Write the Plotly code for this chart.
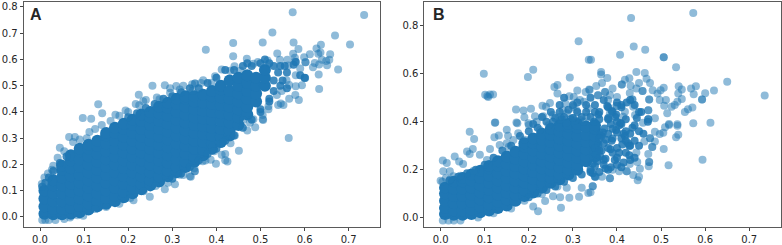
import plotly.graph_objects as go

W, H = 782, 245
BLUE = "#1f77b4"

# Panel A: individually readable points
a_x = [.097,.116,.132,.141,.171,.194,.217,.224,.234,.255,.283,.309,.317,.352,.346,.271,.295,
       .573,.735,.527,.669,.438,.505,.575,.703,.637,.376,.586,.627,.438,.538,.636,.658,.574,.612,.631,.599,.469,.578,.578,.602,.602,
       .639,.656,.649,.623,.633,.651,.619,.676,.632,.441,.412,.494,.516,.484,.544,.561,.563,.590,.601,.601,.580,.559,.594,.580,.565,.633,
       .389,.370,.351,.397,.454,.431,.537,.546,.565,.579,.587,.552,.540,.518,.518,.505,.505,.484,.461,.548,
       .451,.564,.425,.412,.420,.420,.387,.399,.369,.351,.342,.432,.410,.390,.470,.488,.506,.442,.476,
       .045,.027,.066,.079,.112,.106,.249,.212,.340,.306,.283,.351,.317,.098,.068,
       .004,.010,.018,.030,.040,.055,.075,.090,.125,.140,.160,.180,.200,.225,.240,.265,.295,.325,.345,.365,
       .005,.012,.020,.035,.055,.085,.125,.150,.180,.205,.235,.262,.290,.325,.350,.375,.395,.415]
a_y = [.377,.374,.429,.395,.389,.405,.430,.465,.441,.500,.502,.499,.485,.508,.480,.448,.473,
       .780,.769,.703,.691,.663,.665,.665,.657,.656,.637,.640,.642,.612,.623,.626,.620,.622,.620,.622,.608,.603,.606,.592,.589,.589,
       .599,.599,.594,.586,.581,.578,.570,.562,.543,.574,.562,.590,.596,.584,.599,.599,.577,.565,.529,.529,.540,.521,.502,.498,.503,.487,
       .511,.521,.508,.536,.557,.557,.464,.432,.450,.464,.445,.426,.426,.422,.410,.388,.372,.372,.369,.480,
       .252,.301,.211,.237,.240,.216,.218,.202,.212,.174,.153,.281,.278,.266,.329,.342,.369,.310,.359,
       .263,.180,.304,.304,.323,.300,.077,.063,.155,.124,.105,.174,.161,.004,-.002,
       .125,.150,.165,.195,.225,.250,.285,.295,.335,.350,.365,.385,.400,.425,.445,.455,.490,.500,.505,.510,
       -.012,-.012,-.012,-.012,-.008,.006,.030,.038,.050,.072,.098,.118,.130,.160,.185,.215,.250,.285]

# Panel A: overlapping points at the broken edge of the cloud
a_mid_x = [.50,.52,.53,.53,.54,.52,.50,.48,.46,.53,.545,.555,.56,.55,.545,.56,.52,.50,.48,.46,.44,.42,.40,.42,.40,.38,.36,.34,.32,.44,.47,.51,.575,.58,.60,.59,.30,.28,.26,.24,.22,.20,.38,.36,.34,.32,.30,.005,.012,.02,.03,.045,.06]
a_mid_y = [.41,.45,.48,.52,.55,.585,.585,.575,.575,.575,.575,.575,.55,.52,.50,.49,.44,.40,.37,.34,.31,.29,.26,.56,.53,.51,.49,.49,.475,.56,.585,.60,.58,.59,.53,.54,.46,.45,.43,.415,.395,.38,.24,.215,.19,.165,.145,.115,.13,.15,.175,.205,.23]

# Panel A: solid body of the cloud, column by column
a_core_columns = [.01,.03,.05,.07,.09,.11,.13,.15,.17,.19,.21,.23,.25,.27,.29,.31,.33,.35,.37,.39,.41,.43,.45,.47,.49,.51]
a_core_values = [
 [.012,.04,.07,.10],
 [.01,.03,.06,.09,.12,.14],
 [.01,.03,.06,.09,.12,.15,.18,.195],
 [.012,.035,.065,.095,.125,.155,.185,.215,.235],
 [.018,.04,.07,.10,.13,.16,.19,.22,.25,.26],
 [.028,.05,.08,.11,.14,.17,.20,.23,.26,.275],
 [.04,.06,.09,.12,.15,.18,.21,.24,.27,.29],
 [.05,.07,.10,.13,.16,.19,.22,.25,.28,.31,.32],
 [.06,.08,.11,.14,.17,.20,.23,.26,.29,.32,.34],
 [.075,.095,.125,.155,.185,.215,.245,.275,.305,.335,.355],
 [.09,.11,.14,.17,.20,.23,.26,.29,.32,.35,.37],
 [.105,.125,.155,.185,.215,.245,.275,.305,.335,.365,.39],
 [.12,.14,.17,.20,.23,.26,.29,.32,.35,.38,.40],
 [.135,.155,.185,.215,.245,.275,.305,.335,.365,.395,.42],
 [.155,.175,.205,.235,.265,.295,.325,.355,.385,.415,.435],
 [.17,.19,.22,.25,.28,.31,.34,.37,.40,.43,.45],
 [.19,.21,.24,.27,.30,.33,.36,.39,.42,.45,.46],
 [.21,.23,.26,.29,.32,.35,.38,.41,.44,.46],
 [.235,.255,.285,.315,.345,.375,.405,.435,.465],
 [.26,.28,.31,.34,.37,.40,.43,.46,.48],
 [.285,.305,.335,.365,.395,.425,.455,.485,.50],
 [.31,.33,.36,.39,.42,.45,.48,.52],
 [.35,.38,.41,.44,.47,.50,.53],
 [.39,.42,.45,.48,.51,.54],
 [.44,.47,.50,.53],
 [.50,.53,.56],
]

# Panel B: individually readable points
b_x = [.098,.210,.198,.313,.336,.293,.258,.265,.265,.310,.101,.108,.112,.119,.106,.124,.171,.188,.205,.190,.172,.199,.214,.231,.239,.248,.233,.254,.277,.283,.292,.302,.316,.329,.337,.325,.286,.308,.301,.335,.218,.271,.316,.331,
       .432,.573,.438,.464,.407,.341,.506,.506,.534,.444,.463,.364,.364,.378,.467,.650,.735,.418,.428,.366,.353,.390,.411,.411,.431,.450,.475,.444,.458,.458,.481,.499,.506,.540,.568,.579,.547,.539,.574,.600,.620,.593,.593,.547,.537,.511,.507,.524,.531,.571,.561,.554,.514,.492,.473,.473,.435,.435,.429,.497,.400,.384,.373,.373,.357,.357,.338,.380,.399,.399,.437,.471,.471,.441,.418,.471,.471,.471,.486,.518,.537,.573,.612,.459,.414,.384,
       .518,.537,.509,.497,.505,.539,.534,.486,.486,.475,.475,.462,.480,.480,.506,.471,.444,.473,.473,.472,.517,.594,.446,.429,.452,.422,.422,.437,.450,.447,.384,.384,.405,.366,.352,.345,.345,.340,.390,
       .066,.076,.122,.132,.032,.005,.014,.042,.051,.060,.073,.066,.089,.112,.006,.000,.021,.029,.123,.150,.153,.174,.200,.176,.134,.150,.165,
       .273,.221,.210,.237,.255,.271,.292,.314,.335,.320,.286,
       .004,.012,.022,.045,.075,.105,.155,.190,.225,.245,.270,.285,.305,.325,.300,
       .005,.018,.030,.045,.085,.120,.160,.190,.230,.265]
b_y = [.600,.617,.586,.735,.658,.584,.545,.553,.517,.530,.512,.503,.513,.513,.507,.397,.451,.447,.454,.418,.397,.393,.423,.466,.462,.478,.423,.428,.448,.476,.506,.503,.490,.524,.534,.483,.435,.448,.462,.455,.400,.407,.407,.421,
       .832,.853,.713,.700,.679,.658,.669,.669,.627,.607,.603,.607,.597,.582,.579,.567,.509,.575,.581,.561,.549,.538,.555,.555,.550,.561,.561,.538,.528,.528,.531,.531,.542,.548,.538,.548,.534,.517,.514,.519,.530,.493,.493,.495,.483,.490,.466,.462,.470,.459,.452,.440,.435,.517,.493,.493,.493,.493,.520,.490,.503,.510,.524,.524,.510,.510,.532,.490,.465,.465,.462,.448,.448,.428,.441,.410,.410,.410,.414,.390,.389,.393,.396,.396,.421,.435,
       .386,.383,.377,.349,.354,.345,.335,.358,.317,.331,.331,.317,.294,.294,.286,.265,.272,.232,.232,.214,.218,.241,.232,.224,.204,.193,.193,.178,.170,.156,.164,.164,.193,.170,.170,.131,.131,.106,.200,
       .358,.328,.335,.342,.255,.238,.228,.234,.224,.276,.286,.265,.262,.286,.193,.154,.193,.172,.396,.366,.341,.393,.386,.352,.303,.310,.324,
       .041,.027,.046,.069,.089,.085,.083,.087,.103,.124,.124,
       .150,.165,.160,.175,.195,.240,.295,.325,.365,.385,.420,.395,.405,.400,.415,
       -.012,-.012,-.012,-.012,.000,.018,.038,.070,.098,.130]

# Panel B: overlapping points in the loose outer part of the cloud
b_mid_x = [.345,.352,.358,.365,.372,.380,.388,.396,.405,.415,.425,.345,.355,.365,.375,.385,.395,.405,.415,.428,.348,.358,.368,.378,.388,.398,.408,.418,.435,.445,.350,.362,.374,.386,.398,.410,.422,.455,.350,.362,.374,.386,.400,.412,.428,.440,
           .37,.38,.39,.40,.41,.42,.43,.44,.45,.36,.37,.38,.39,.40,.41,.42,.43,.36,.37,.39,.41,.43,.45,.46,.36,.38,.40,.42,.44,.34,.35,.36,.38,.40,.42,
           .20,.22,.24,.26,.28,.30,.32,.21,.23,.25,.27,.29,.31,.33,.35,.18,.16,.14,.12,.10,.08,.06,.04,.02,.24,.26,.28,.30,.32,.34,.22,.20,.34,.30,.33,.27,.28,.31,
           .35,.37,.39,.41,.43,.45,.34,.36,.38,.40,.44,.47,.255,.275,.295]
b_mid_y = [.225,.262,.305,.340,.372,.415,.445,.420,.385,.350,.310,.185,.235,.280,.325,.285,.240,.270,.230,.300,.400,.430,.355,.465,.320,.365,.395,.340,.375,.415,.215,.255,.205,.390,.430,.470,.480,.440,.290,.345,.245,.210,.355,.305,.260,.385,
           .24,.29,.33,.25,.33,.27,.35,.32,.36,.28,.31,.35,.37,.29,.39,.32,.30,.41,.22,.27,.21,.24,.30,.35,.19,.20,.22,.36,.25,.19,.17,.33,.41,.40,.41,
           .36,.375,.40,.415,.42,.415,.42,.39,.42,.44,.44,.45,.44,.44,.44,.34,.30,.28,.25,.22,.20,.185,.17,.155,.115,.13,.15,.165,.18,.20,.10,.085,.42,.47,.47,.47,.50,.48,
           .47,.49,.44,.46,.49,.44,.50,.44,.46,.48,.47,.40,.40,.41,.41]

# Panel B: solid body of the cloud, column by column
b_core_columns = [.01,.03,.05,.07,.09,.11,.13,.15,.17,.19,.21,.23,.25,.27,.29,.31,.33,.35]
b_core_values = [
 [.015,.04,.07,.10,.125],
 [.012,.03,.06,.09,.12,.15],
 [.012,.03,.06,.09,.12,.15,.165],
 [.015,.035,.065,.095,.125,.155,.18],
 [.022,.045,.075,.105,.135,.165,.195],
 [.03,.055,.085,.115,.145,.175,.205,.215],
 [.04,.065,.095,.125,.155,.185,.215,.235],
 [.05,.075,.105,.135,.165,.195,.225,.255],
 [.07,.095,.125,.155,.185,.215,.245,.275],
 [.09,.115,.145,.175,.205,.235,.265,.295,.31],
 [.105,.13,.16,.19,.22,.25,.28,.31,.33],
 [.125,.145,.175,.205,.235,.265,.295,.325,.35],
 [.145,.165,.195,.225,.255,.285,.315,.345,.37],
 [.16,.18,.21,.24,.27,.30,.33,.36,.385],
 [.18,.20,.23,.26,.29,.32,.35,.38,.39],
 [.20,.22,.25,.28,.31,.34,.375,.39],
 [.235,.255,.285,.315,.345,.38],
 [.255,.28,.31,.34,.37,.385],
]

x_ticks = [0, .1, .2, .3, .4, .5, .6, .7]
x_tick_labels = ["0.0", "0.1", "0.2", "0.3", "0.4", "0.5", "0.6", "0.7"]
a_y_ticks = [0, .1, .2, .3, .4, .5, .6, .7, .8]
a_y_tick_labels = ["0.0", "0.1", "0.2", "0.3", "0.4", "0.5", "0.6", "0.7", "0.8"]
b_y_ticks = [0, .2, .4, .6, .8]
b_y_tick_labels = ["0.0", "0.2", "0.4", "0.6", "0.8"]
panel_labels = ["A", "B"]


def flatten(columns, values):
    xs, ys = [], []
    for c, col in zip(columns, values):
        for v in col:
            xs.append(c)
            ys.append(v)
    return xs, ys


fig = go.Figure()
a_cx, a_cy = flatten(a_core_columns, a_core_values)
b_cx, b_cy = flatten(b_core_columns, b_core_values)
for (cx, cy, mx, my, px, py, xa, ya) in [
    (a_cx, a_cy, a_mid_x, a_mid_y, a_x, a_y, "x", "y"),
    (b_cx, b_cy, b_mid_x, b_mid_y, b_x, b_y, "x2", "y2"),
]:
    fig.add_trace(go.Scatter(x=cx, y=cy, mode="markers", xaxis=xa, yaxis=ya,
                             marker=dict(color=BLUE, size=12, line_width=0), hoverinfo="skip"))
    fig.add_trace(go.Scatter(x=mx, y=my, mode="markers", xaxis=xa, yaxis=ya,
                             marker=dict(color=BLUE, size=8, opacity=.85, line_width=0), hoverinfo="skip"))
    fig.add_trace(go.Scatter(x=px, y=py, mode="markers", xaxis=xa, yaxis=ya,
                             marker=dict(color=BLUE, size=8, opacity=.5, line_width=0)))


def axis(**kw):
    return dict(showgrid=False, zeroline=False, showline=True, mirror=True, linecolor="#5a5a5a", linewidth=1,
                ticks="outside", ticklen=3, tickwidth=1, tickcolor="#444444",
                tickfont=dict(family="DejaVu Sans", size=10, color="#262626"), **kw)


fig.update_layout(
    width=W, height=H, showlegend=False, paper_bgcolor="white", plot_bgcolor="white",
    margin=dict(l=0, r=0, t=0, b=0),
    xaxis=axis(domain=[23.7 / W, 380 / W], range=[-.037, .771], tickvals=x_ticks, ticktext=x_tick_labels, anchor="y"),
    yaxis=axis(domain=[1 - 227.7 / H, 1 - 1.5 / H], range=[-.038, .817], tickvals=a_y_ticks, ticktext=a_y_tick_labels, anchor="x"),
    xaxis2=axis(domain=[424.3 / W, 781 / W], range=[-.037, .772], tickvals=x_ticks, ticktext=x_tick_labels, anchor="y2"),
    yaxis2=axis(domain=[1 - 228.3 / H, 1 - 1.5 / H], range=[-.041, .897], tickvals=b_y_ticks, ticktext=b_y_tick_labels, anchor="x2"),
    annotations=[
        dict(text="<b>%s</b>" % panel_labels[0], x=29 / W, y=1 - 4.5 / H, xref="paper", yref="paper", xanchor="left", yanchor="top",
             showarrow=False, borderpad=0, font=dict(family="Liberation Sans", size=16, color="#262626")),
        dict(text="<b>%s</b>" % panel_labels[1], x=432 / W, y=1 - 4.5 / H, xref="paper", yref="paper", xanchor="left", yanchor="top",
             showarrow=False, borderpad=0, font=dict(family="Liberation Sans", size=16, color="#262626")),
    ],
)
fig.write_html("out.html", config={"displayModeBar": False},
               post_script="document.body.style.margin='0';document.body.style.overflow='hidden';")
